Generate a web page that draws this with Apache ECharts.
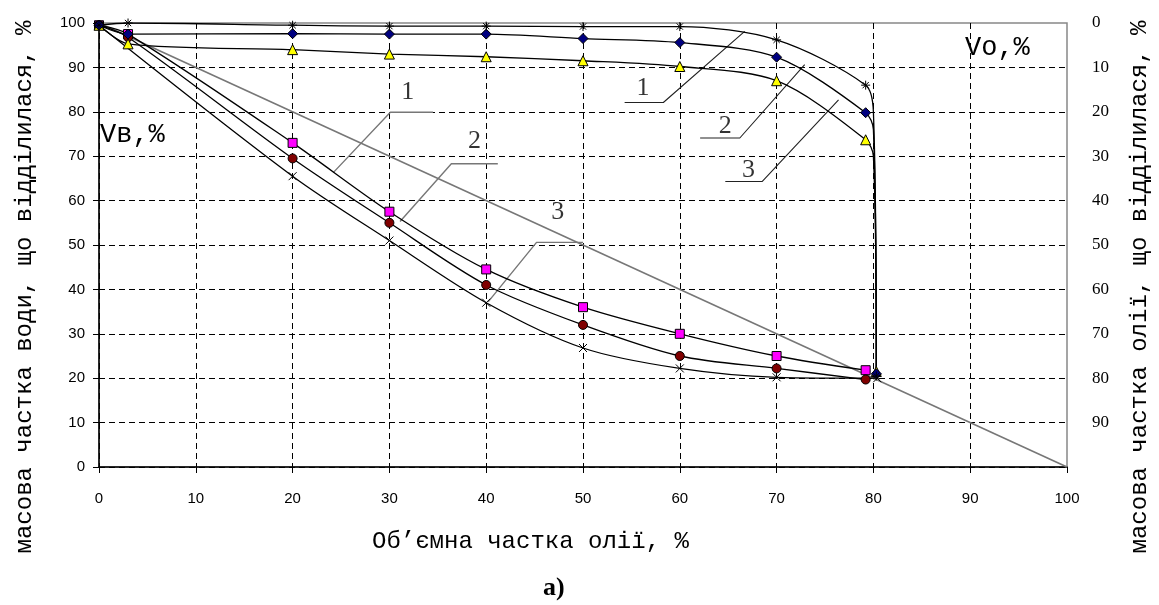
<!DOCTYPE html>
<html>
<head>
<meta charset="utf-8">
<script src="https://cdn.jsdelivr.net/npm/echarts@6/dist/echarts.min.js"></script>
<style>
html, body { margin: 0; padding: 0; background: #fff; }
#chart { width: 1159px; height: 605px; }
</style>
</head>
<body>
<div id="chart"></div>
<script>
// water separated, % (left axis), curves 1..3
var xWater = [0, 3, 20, 30, 40, 50, 60, 70, 79.2];
var water1 = [99.5, 97.5, 73, 57.5, 44.5, 36, 30, 25, 21.8];
var water2 = [99.5, 96.8, 69.5, 55, 41, 32, 25, 22.2, 19.7];
var xWater3 = [0, 20, 30, 40, 50, 60, 70, 80.4];
var water3 = [99.5, 65.5, 51, 37, 26.8, 22.2, 20.2, 20];

// oil separated, read on the left scale (right axis = 100 - value)
var xOil = [0, 3, 20, 30, 40, 50, 60, 70, 79.2, 80, 80.3];
var oil1 = [99.5, 100, 99.5, 99.3, 99.3, 99.2, 99.2, 96.2, 86, 80, 20.5];
var oil2 = [99.5, 97.5, 97.6, 97.5, 97.5, 96.5, 95.6, 92.3, 79.8, 76, 21];
var oil3 = [99.5, 95.3, 94, 93, 92.4, 91.5, 90.2, 87, 73.7, 70, 21.5];
var oilKnee = 9; // bend point, no marker

var diagX = [0, 100];
var diagY = [100, 0];

// curve numbers with leader lines (data coords)
var curveNames = ['1', '2', '3'];
var lowerLabelPos = [[31.9, 84.5], [38.8, 73.3], [47.4, 57.5]];
var lowerLeaders = [
	[[24.2, 66.3], [30.1, 79.9], [34.5, 79.9]],
	[[31.1, 55.3], [36.4, 68.3], [41.2, 68.3]],
	[[40.2, 37.2], [45.2, 50.6], [50, 50.6]]
];
var upperLabelPos = [[56.2, 85.3], [64.7, 76.7], [67.1, 66.9]];
var upperLeaders = [
	[[54.3, 82.1], [58.3, 82.1], [66.7, 98.1]],
	[[62.1, 74.1], [66.2, 74.1], [72.9, 90.6]],
	[[64.7, 64.3], [68.5, 64.3], [76.4, 82.7]]
];

function pts(xs, ys, hide) {
	return xs.map(function (x, i) {
		var item = { value: [x, ys[i]] };
		if (i === hide) item.symbol = 'none';
		return item;
	});
}

var crossPath = 'path://M0,0L10,10M10,0L0,10';
var starPath = 'path://M5,0L5,10M0,5L10,5M1.5,1.5L8.5,8.5M8.5,1.5L1.5,8.5';

function curve(name, data, symbol, size, fill) {
	return {
		name: name,
		type: 'line',
		data: data,
		smooth: 0.3,
		symbol: symbol,
		symbolSize: size,
		showAllSymbol: true,
		lineStyle: { color: '#000', width: 1.3 },
		itemStyle: { color: fill, borderColor: '#000', borderWidth: 1 },
		z: 5
	};
}

var series = [
	{
		type: 'line',
		data: diagX.map(function (x, i) { return [x, diagY[i]]; }),
		symbol: 'none',
		lineStyle: { color: '#777', width: 1.6 },
		z: 3
	},
	curve('w1', pts(xWater, water1), 'rect', 9, '#ff00ff'),
	curve('w2', pts(xWater, water2), 'circle', 9, '#800000'),
	curve('w3', pts(xWater3, water3), crossPath, 8, 'none'),
	curve('o3', pts(xOil, oil3, oilKnee), 'triangle', 10, '#ffff00'),
	curve('o2', pts(xOil, oil2, oilKnee), 'diamond', 10, '#000080'),
	curve('o1', pts(xOil, oil1, oilKnee), starPath, 9, 'none')
];

lowerLeaders.forEach(function (l) {
	series.push({ type: 'line', data: l, symbol: 'none', silent: true,
		lineStyle: { color: '#777', width: 1.4 }, z: 4 });
});
upperLeaders.forEach(function (l) {
	series.push({ type: 'line', data: l, symbol: 'none', silent: true,
		lineStyle: { color: '#222', width: 1.1 }, z: 4 });
});
series.push({
	type: 'scatter',
	silent: true,
	symbolSize: 1,
	itemStyle: { color: 'rgba(0,0,0,0)' },
	data: lowerLabelPos.concat(upperLabelPos).map(function (p, i) {
		return { name: curveNames[i % 3], value: p };
	}),
	label: {
		show: true,
		position: 'inside',
		formatter: '{b}',
		fontFamily: 'Liberation Serif',
		fontSize: 26,
		color: '#000'
	},
	z: 6
});

var chart = echarts.init(document.getElementById('chart'));
var option = {
	animation: false,
	backgroundColor: '#fff',
	grid: {
		left: 99, right: 92, top: 23, bottom: 138,
		containLabel: false,
		outerBoundsMode: 'none',
		show: true, borderColor: '#888', borderWidth: 1.5
	},
	xAxis: {
		type: 'value',
		min: 0, max: 100, interval: 10,
		axisLine: { show: true, onZero: false, lineStyle: { color: '#000', width: 1.5 } },
		axisTick: { show: true, length: 6, lineStyle: { color: '#000' } },
		axisLabel: { fontFamily: 'Liberation Sans', fontSize: 15, color: '#000', margin: 24 },
		splitLine: { show: true, showMaxLine: false, lineStyle: { color: '#000', type: [6, 4], width: 1 } }
	},
	yAxis: [
		{
			type: 'value',
			min: 0, max: 100, interval: 10,
			axisLine: { show: true, onZero: false, lineStyle: { color: '#000', width: 1.5 } },
			axisTick: { show: true, length: 6, lineStyle: { color: '#000' } },
			axisLabel: { fontFamily: 'Liberation Sans', fontSize: 15, color: '#000', margin: 14 },
			splitLine: { show: true, showMaxLine: false, lineStyle: { color: '#000', type: [6, 4], width: 1 } }
		},
		{
			type: 'value',
			position: 'right',
			inverse: true,
			min: 0, max: 100, interval: 10,
			axisLine: { show: false },
			axisTick: { show: false },
			splitLine: { show: false },
			axisLabel: {
				fontFamily: 'Liberation Serif', fontSize: 17, color: '#000', margin: 25,
				formatter: function (v) { return v === 100 ? '' : v; }
			}
		},
		{
			// inner half of the crossing ticks on the left axis
			type: 'value',
			position: 'left',
			min: 0, max: 100, interval: 10,
			axisLine: { show: false },
			axisTick: { show: true, inside: true, length: 5, lineStyle: { color: '#000' } },
			axisLabel: { show: false },
			splitLine: { show: false }
		}
	],
	graphic: [
		{ type: 'text', x: 25, y: 287, rotation: Math.PI / 2,
			style: { text: 'масова частка води, що відділилася, %', align: 'center', verticalAlign: 'middle',
				fontFamily: 'Liberation Mono', fontSize: 24, fill: '#000' } },
		{ type: 'text', x: 1140, y: 287, rotation: Math.PI / 2,
			style: { text: 'масова частка олії, що відділилася, %', align: 'center', verticalAlign: 'middle',
				fontFamily: 'Liberation Mono', fontSize: 24, fill: '#000' } },
		{ type: 'text', left: 100, top: 121, style: { text: 'Vв,%', fontFamily: 'Liberation Mono', fontSize: 27, fill: '#000' } },
		{ type: 'text', left: 965, top: 34, style: { text: 'Vо,%', fontFamily: 'Liberation Mono', fontSize: 27, fill: '#000' } },
		{ type: 'text', left: 372, top: 530, style: { text: 'Об’ємна частка олії, %', fontFamily: 'Liberation Mono', fontSize: 24, fill: '#000' } },
		{ type: 'text', left: 543, top: 575, style: { text: 'а)', fontFamily: 'Liberation Serif', fontWeight: 'bold', fontSize: 26, fill: '#000' } }
	],
	series: series
};
chart.setOption(option);
</script>
</body>
</html>
